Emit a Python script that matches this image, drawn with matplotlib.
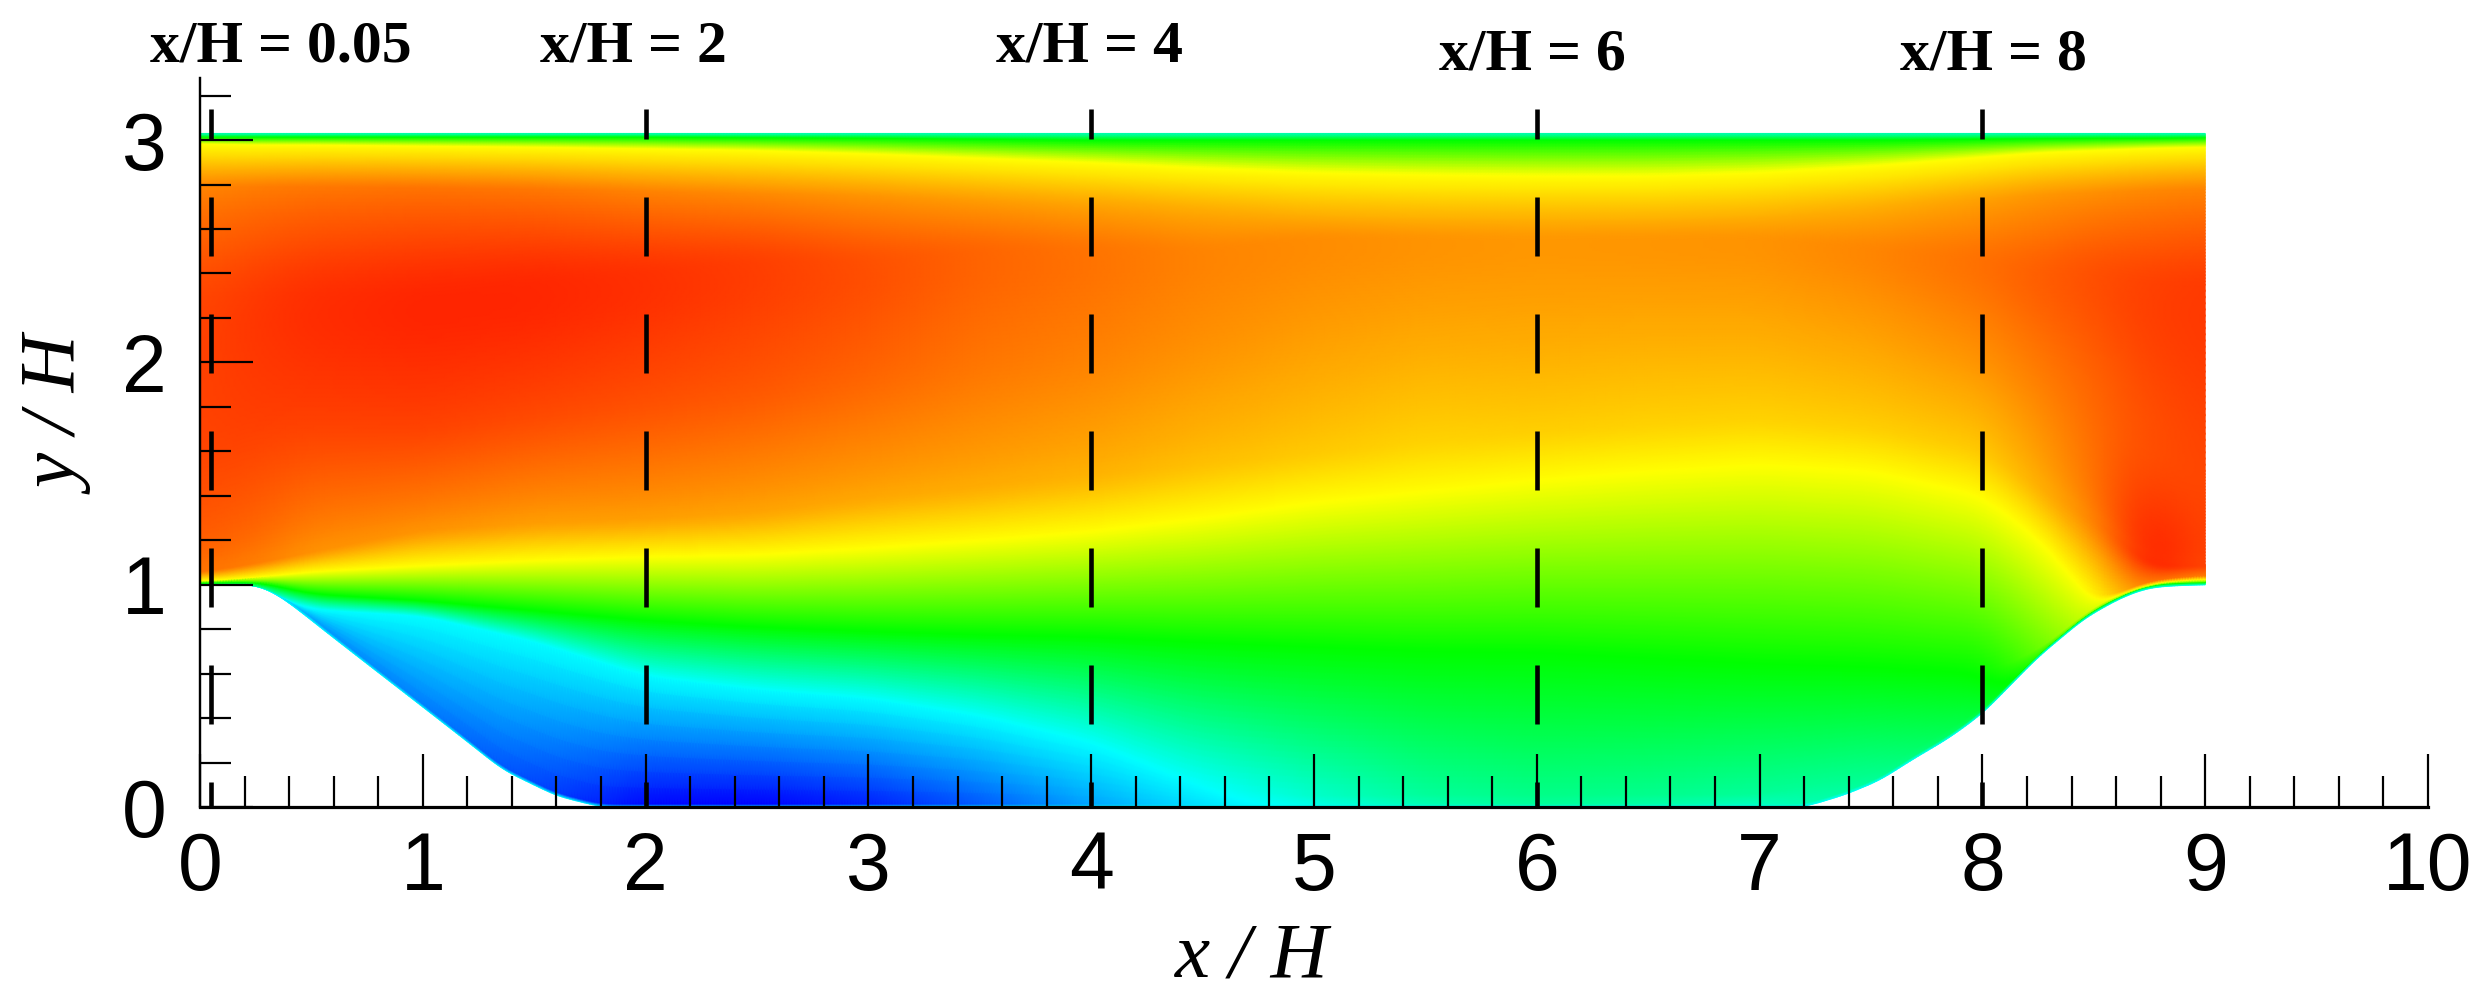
import numpy as np
import matplotlib
matplotlib.use("Agg")
import matplotlib.pyplot as plt
from matplotlib.colors import LinearSegmentedColormap

plt.rcParams["lines.scale_dashes"] = False

# ---- values ----
wall_x = [0, .25, .35, .45, .55, .75, 1.0, 1.2, 1.36, 1.6, 1.8, 7.2, 7.38, 7.54, 7.68, 7.85, 8.0, 8.25, 8.46, 8.62, 8.74, 8.85, 9.0]
wall_y = [1, 1.0, .955, .88, .80, .644, .45, .294, .167, .05, .0, .0, .054, .12, .21, .31, .42, .675, .85, .94, .985, .995, 1.0]

cols = [0, .25, .5, 1, 1.5, 2, 2.5, 3, 3.5, 4, 4.5, 5, 5.5, 6, 6.5, 7, 7.5, 8, 8.25, 8.5, 8.75, 9]

skin_d = [.001, .002, .015, .015, .015, .015, .015, .015, .015, .015, .015, .015, .015, .015, .015, .015, .015, .015, .015, .015, .013, .012]
skin_v = [1.3, 1.2, .6, .5, .28, .02, 0, .12, .35, .65, .9, 1.1, 1.3, 1.4, 1.35, 1.25, 1.4, 1.7, 2.0, 2.2, 2.0, 2.0]

cyan_y = [1.004, 1.006, .89, .86, .745, .59, .53, .49, .41, .29, .09, .05, .06, .06, .06, .06, .15, .445, .69, .90, 1.007, 1.02]
cyan_v = [1.6, 1.5, 1, 1, 1, 1, 1, 1, 1, 1, 1, 1.2, 1.4, 1.47, 1.45, 1.4, 1.45, 1.8, 2.2, 2.6, 2.6, 2.6]

green_y = [1.009, 1.016, .96, .93, .885, .84, .81, .79, .775, .765, .74, .72, .70, .695, .67, .645, .63, .60, .705, .91, 1.013, 1.028]
green_v = [2, 2, 2, 2, 2, 2, 2, 2, 2, 2, 2, 2, 2, 2, 2, 2, 2, 2, 2.4, 2.9, 3.1, 3.0]

yellow_y = [1.018, 1.035, 1.06, 1.087, 1.11, 1.127, 1.135, 1.165, 1.20, 1.24, 1.30, 1.37, 1.42, 1.47, 1.51, 1.54, 1.51, 1.40, 1.21, .925, 1.025, 1.045]
yellow_v = [3, 3, 3, 3, 3, 3, 3, 3, 3, 3, 3, 3, 3, 3, 3, 3, 3, 3, 3, 3, 3.6, 3.5]

low_y = [1.06, 1.1, 1.15, 1.25, 1.28, 1.3, 1.33, 1.4, 1.45, 1.5, 1.55, 1.6, 1.65, 1.7, 1.72, 1.75, 1.72, 1.62, 1.45, 1.3, 1.09, 1.09]
low_v = [3.6, 3.55, 3.45, 3.45, 3.4, 3.4, 3.38, 3.37, 3.35, 3.32, 3.26, 3.22, 3.18, 3.2, 3.18, 3.18, 3.2, 3.22, 3.32, 3.52, 3.92, 3.75]

mid_y = [1.6, 1.7, 1.7, 1.7, 1.75, 1.8, 1.85, 1.9, 1.95, 2.0, 2.05, 2.1, 2.15, 2.2, 2.2, 2.2, 2.1, 2.0, 1.9, 1.8, 1.6, 1.5]
mid_v = [3.74, 3.76, 3.75, 3.75, 3.72, 3.69, 3.66, 3.6, 3.53, 3.49, 3.43, 3.38, 3.35, 3.36, 3.35, 3.35, 3.36, 3.42, 3.49, 3.58, 3.67, 3.72]

peak_y = [2.3, 2.3, 2.3, 2.3, 2.35, 2.4, 2.45, 2.45, 2.5, 2.5, 2.5, 2.55, 2.55, 2.55, 2.55, 2.55, 2.5, 2.45, 2.4, 2.4, 2.35, 2.35]
peak_v = [3.74, 3.8, 3.85, 3.89, 3.89, 3.85, 3.79, 3.72, 3.63, 3.57, 3.5, 3.47, 3.44, 3.42, 3.43, 3.44, 3.5, 3.59, 3.66, 3.72, 3.78, 3.8]

upper_y = [2.79, 2.79, 2.79, 2.785, 2.78, 2.77, 2.76, 2.75, 2.73, 2.71, 2.685, 2.665, 2.655, 2.65, 2.65, 2.665, 2.695, 2.735, 2.755, 2.765, 2.775, 2.78]
upper_v = [3.5, 3.53, 3.55, 3.57, 3.55, 3.5, 3.47, 3.43, 3.4, 3.37, 3.34, 3.32, 3.31, 3.31, 3.31, 3.31, 3.33, 3.38, 3.42, 3.45, 3.48, 3.5]

ridge_y = [2.985, 2.98, 2.98, 2.975, 2.97, 2.963, 2.955, 2.94, 2.92, 2.90, 2.875, 2.855, 2.845, 2.84, 2.84, 2.855, 2.885, 2.925, 2.945, 2.955, 2.965, 2.97]
ridge_v = [3] * 22

lid_y = [3.015, 3.015, 3.015, 3.015, 3.015, 3.015, 3.012, 3.01, 3.005, 3.0, 3.0, 3.0, 3.0, 3.0, 3.0, 3.0, 3.0, 3.005, 3.008, 3.01, 3.01, 3.012]
lid_v = [2] * 22

top_y = [3.03] * 22
top_v = [1.3] * 22

x_ticks = [0, 1, 2, 3, 4, 5, 6, 7, 8, 9, 10]
y_ticks = [0, 1, 2, 3]
station_x = [0.05, 2, 4, 6, 8]
station_labels = ["x/H = 0.05", "x/H = 2", "x/H = 4", "x/H = 6", "x/H = 8"]
station_text_px = [(281, 47), (633, 47), (1089, 47), (1532, 56), (1993, 56)]

# ---- figure ----
W, H = 2489, 1007
fig = plt.figure(figsize=(W / 100, H / 100), dpi=100, facecolor="white")
X0, X10, Y0, YTOP = 200, 2428, 807, 78
ax = fig.add_axes([X0 / W, 1 - Y0 / H, (X10 - X0) / W, (Y0 - YTOP) / H])
ax.set_xlim(0, 10)
ax.set_ylim(0, (Y0 - YTOP) / 222.3)

cmap = LinearSegmentedColormap.from_list(
    "rainbow5", ["#0000ff", "#00ffff", "#00ff00", "#ffff00", "#ff0000"], N=1024)

# body-fitted mesh built from the level rows above
xd = np.linspace(0, 9, 721)


def smooth(r, k):
    pad = np.r_[np.full(k, r[0]), r, np.full(k, r[-1])]
    ker = np.hanning(2 * k + 3)[1:-1]
    return np.convolve(pad, ker / ker.sum(), mode="same")[k:-k]


def row(a, k=14):
    return smooth(np.interp(xd, cols, a), k)


wd = smooth(np.interp(xd, wall_x, wall_y), 8)

rows_y = [wd, wd + np.interp(xd, cols, skin_d)] + [row(a) for a in
          (cyan_y, green_y, yellow_y, low_y, mid_y, peak_y, upper_y, ridge_y, lid_y, top_y)]
rows_v = [np.full_like(xd, 1.0)] + [row(a) for a in
          (skin_v, cyan_v, green_v, yellow_v, low_v, mid_v, peak_v, upper_v, ridge_v, lid_v, top_v)]
RY = np.array(rows_y)
RV = np.array(rows_v)
for i in range(1, RY.shape[0]):
    RY[i] = np.maximum(RY[i], RY[i - 1] + 5e-4)

counts = [4, 8, 24, 40, 20, 30, 30, 30, 30, 12, 4]
s_seg = np.arange(RY.shape[0])
s_dense = np.concatenate([np.linspace(a, a + 1, n, endpoint=False) for a, n in
                          zip(s_seg[:-1], counts)] + [[s_seg[-1]]])
YY = np.array([np.interp(s_dense, s_seg, RY[:, j]) for j in range(len(xd))]).T
VV = np.array([np.interp(s_dense, s_seg, RV[:, j]) for j in range(len(xd))]).T
# round off the kinks inside the broad upper zone only
i0 = sum(counts[:5]) - 6
i1 = sum(counts[:9]) - 6
weight = np.clip(np.minimum(np.arange(VV.shape[0]) - i0, i1 - np.arange(VV.shape[0])) / 8, 0, 1)[:, None]
VS = VV.copy()
for j in range(VV.shape[1]):
    VS[:, j] = smooth(VV[:, j], 16)
VV = VV * (1 - weight) + VS * weight
XX = np.tile(xd, (len(s_dense), 1))
ax.pcolormesh(XX, YY, VV, shading="gouraud", cmap=cmap, vmin=0, vmax=4,
              zorder=1, rasterized=True)

# dashed stations
px = 0.72
for xs in station_x:
    ax.plot([xs, xs], [0, (Y0 - 109) / 222.3], color="black", lw=4.6 * px, zorder=3,
            linestyle=(34 * px, (59 * px, 58 * px)), dash_capstyle="butt", scaley=False, scalex=False)

# axes
for side in ("top", "right"):
    ax.spines[side].set_visible(False)
ax.spines["left"].set_linewidth(2.4 * px)
ax.spines["bottom"].set_linewidth(3.2 * px)
ax.spines["left"].set_zorder(5)
ax.spines["bottom"].set_zorder(5)
ax.set_xticks(x_ticks)
ax.set_yticks(y_ticks)
ax.set_xticks(np.arange(0, 10.01, 0.2), minor=True)
ax.set_yticks(np.arange(0, 3.21, 0.2), minor=True)
ax.tick_params(axis="both", which="major", direction="in", length=53 * px, width=2.2 * px, zorder=4)
ax.tick_params(axis="both", which="minor", direction="in", length=31 * px, width=2.2 * px, zorder=4)
ax.tick_params(axis="x", which="major", pad=17, labelsize=58)
ax.tick_params(axis="y", which="major", pad=24, labelsize=58)
for t in ax.get_xticklabels() + ax.get_yticklabels():
    t.set_fontfamily("Liberation Sans")

fig.text(1252 / W, 1 - 958 / H, "x / H", fontfamily="Liberation Serif", style="italic",
         fontsize=57, ha="center", va="center")
fig.text(62 / W, 1 - 417 / H, "y / H", fontfamily="Liberation Serif", style="italic",
         fontsize=57, ha="center", va="center", rotation=90)
for lab, (tx, ty) in zip(station_labels, station_text_px):
    fig.text(tx / W, 1 - ty / H, lab, fontfamily="Liberation Serif", fontweight="bold",
             fontsize=43, ha="center", va="center")

fig.savefig("out.png", dpi=100, facecolor="white")
